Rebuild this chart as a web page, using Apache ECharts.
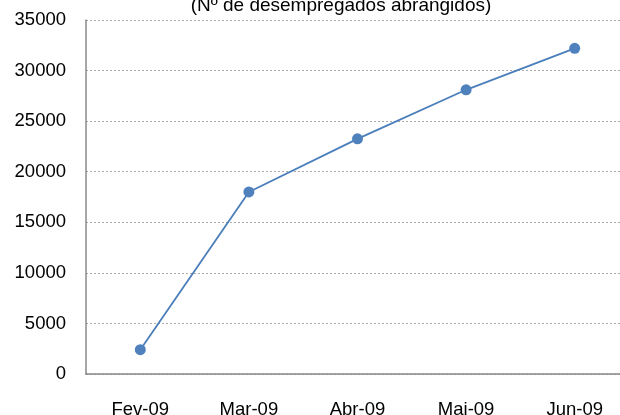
<!DOCTYPE html>
<html>
<head>
<meta charset="utf-8">
<script src="https://cdn.jsdelivr.net/npm/echarts@6/dist/echarts.min.js"></script>
<style>
    html, body { margin: 0; padding: 0; background: #fff; }
    #chart { width: 620px; height: 415px; }
</style>
</head>
<body>
<div id="chart"></div>
<script>
var categories = ['Fev-09', 'Mar-09', 'Abr-09', 'Mai-09', 'Jun-09'];
var desempregados = [2400, 18000, 23250, 28100, 32200];
var titleText = '(Nº de desempregados abrangidos)';

var myChart = echarts.init(document.getElementById('chart'));
var option = {
    animation: false,
    title: {
        text: titleText,
        left: 336,
        textAlign: 'center',
        top: -9,
        textStyle: {
            fontFamily: 'Liberation Sans',
            fontSize: 19,
            fontWeight: 'normal',
            color: '#000'
        }
    },
    grid: {
        left: 86,
        top: 20,
        width: 543,
        height: 354,
        containLabel: false,
        outerBoundsMode: 'none'
    },
    xAxis: {
        type: 'category',
        data: categories,
        boundaryGap: true,
        axisLine: {
            lineStyle: { color: '#888', width: 1.5 }
        },
        axisTick: { show: false },
        axisLabel: {
            margin: 26,
            fontFamily: 'Liberation Sans',
            fontSize: 18.5,
            color: '#000'
        },
        splitLine: { show: false }
    },
    yAxis: {
        type: 'value',
        min: 0,
        max: 35000,
        interval: 5000,
        axisLine: {
            show: true,
            lineStyle: { color: '#888', width: 1.5 }
        },
        axisTick: { show: false },
        axisLabel: {
            margin: 20,
            fontFamily: 'Liberation Sans',
            fontSize: 18.5,
            color: '#000',
            formatter: function (v) { return String(v); }
        },
        splitLine: {
            lineStyle: { color: '#aaa', type: [2, 2], width: 1 }
        }
    },
    series: [
        {
            type: 'line',
            data: desempregados,
            symbol: 'circle',
            symbolSize: 11,
            lineStyle: { color: '#4a7ebb', width: 1.8 },
            itemStyle: { color: '#4f81bd' }
        }
    ]
};
myChart.setOption(option);
</script>
</body>
</html>
